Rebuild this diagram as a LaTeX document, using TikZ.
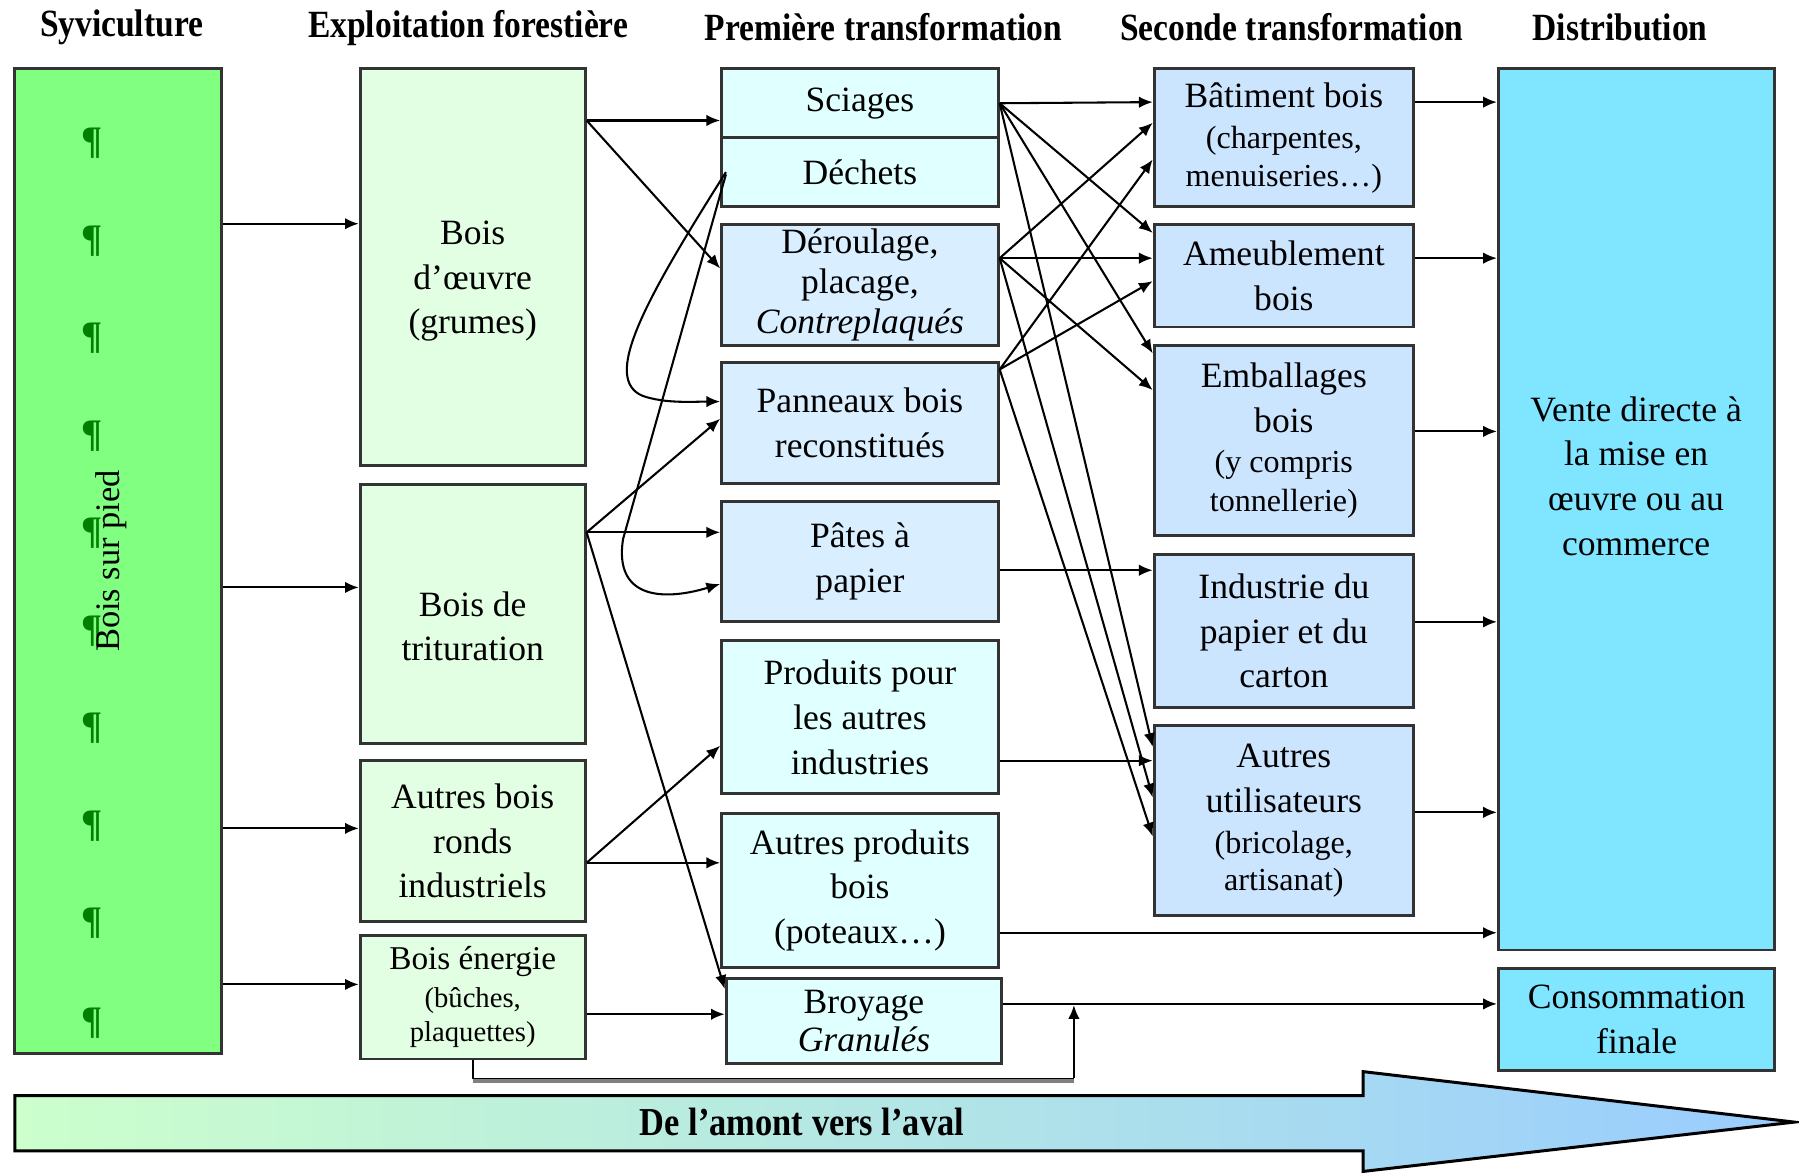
\documentclass[tikz,border=0pt]{standalone}
\usepackage{fontspec}
\setmainfont{Liberation Serif}
\usetikzlibrary{arrows.meta}
\definecolor{cgreen}{HTML}{80FF80}
\definecolor{cpale}{HTML}{E3FFE3}
\definecolor{ccyan}{HTML}{E0FFFF}
\definecolor{cblue}{HTML}{D9EEFF}
\definecolor{cbluetwo}{HTML}{CCE5FF}
\definecolor{cvente}{HTML}{80E5FF}
\definecolor{cborder}{HTML}{333333}
\definecolor{cpil}{HTML}{008000}
\definecolor{cgl}{HTML}{CCFFCC}
\definecolor{cbr}{HTML}{99CCFF}
\newcommand{\bx}[7]{\node[#6, minimum width={(#3-#1)*0.5}, minimum height={(#4-#2)*0.5}] (#5) at ({(#1+#3)/2},{(#2+#4)/2}) {#7};}
\newcommand{\sm}[1]{{\fontsize{14}{16}\selectfont #1}}
\newcommand{\hdr}[1]{\scalebox{1}[1.15]{#1}}
\begin{document}
\begin{tikzpicture}[x=0.5pt,y=-0.5pt,
  bx/.style={draw=cborder, line width=1.3pt, inner sep=1pt, align=center, font=\fontsize{15.5}{19.5}\selectfont},
  hd/.style={font=\fontsize{14.6}{17}\selectfont\bfseries, inner sep=0pt},
  arr/.style={-{Latex[length=6pt,width=5pt]}, line width=0.9pt, black},
  pil/.style={text=cpil, font=\fontsize{17}{17}\selectfont\bfseries, inner sep=0pt}]
\useasboundingbox (0,0) rectangle (1568,1023);
\fill[white] (0,0) rectangle (1568,1023);
% headers
\node[hd] (h1) at (106,24) {\hdr{Syviculture}};
\node[hd] (h2) at (408,24) {\hdr{Exploitation forestière}};
\node[hd] (h3) at (770,24) {\hdr{Première transformation}};
\node[hd] (h4) at (1126,24) {\hdr{Seconde transformation}};
\node[hd] (h5) at (1412,24) {\hdr{Distribution}};
% column 1
\bx{13}{60}{193}{918}{sp}{bx, fill=cgreen}{}
\foreach \yy [count=\i] in {125,210,295,380,465,550,635,720,805,892}
  \node[pil] (p\i) at (80,\yy) {¶};
\node[rotate=90, font=\fontsize{15}{17}\selectfont, inner sep=0pt] (bsp) at (97,489) {Bois sur pied};
% column 2
\bx{314}{60}{510}{406}{bo}{bx, fill=cpale}{}
\node[align=center, font=\fontsize{15.5}{19.5}\selectfont] (tbo) at (412,245) {Bois\\d’œuvre\\(grumes)};
\bx{314}{422}{510}{648}{bt}{bx, fill=cpale}{}
\node[align=center, font=\fontsize{15.5}{19.5}\selectfont] (tbt) at (412,546) {Bois de\\trituration};
\bx{314}{663}{510}{803}{ba}{bx, fill=cpale}{Autres bois\\ronds\\industriels}
\bx{314}{815}{510}{923}{be}{bx, fill=cpale}{{\fontsize{14.5}{16}\selectfont Bois énergie}\\[-3pt]{\fontsize{12.5}{15}\selectfont (bûches,}\\[-4.5pt]{\fontsize{12.5}{15}\selectfont plaquettes)}}
% column 3
\bx{629}{60}{870}{120}{sci}{bx, fill=ccyan}{Sciages}
\bx{629}{120}{870}{180}{dec}{bx, fill=ccyan}{Déchets}
\bx{629}{196}{870}{301}{der}{bx, fill=cblue}{Déroulage,\\[-2pt]placage,\\[-2pt]\textit{Contreplaqués}}
\bx{629}{316}{870}{421}{pan}{bx, fill=cblue}{Panneaux bois\\reconstitués}
\bx{629}{437}{870}{542}{pat}{bx, fill=cblue}{Pâtes à\\papier}
\bx{629}{558}{870}{692}{pro}{bx, fill=ccyan}{Produits pour\\les autres\\industries}
\bx{629}{709}{870}{843}{apb}{bx, fill=ccyan}{Autres produits\\bois\\(poteaux…)}
\bx{633}{853}{873}{927}{bro}{bx, fill=ccyan}{Broyage\\[-3pt]\textit{Granulés}}
% column 4
\bx{1006}{60}{1232}{180}{bat}{bx, fill=cbluetwo}{Bâtiment bois\\[-1.5pt]\sm{(charpentes,}\\[-3pt]\sm{menuiseries…)}}
\bx{1006}{196}{1232}{285}{ame}{bx, fill=cbluetwo}{Ameublement\\bois}
\bx{1006}{301}{1232}{467}{emb}{bx, fill=cbluetwo}{Emballages\\bois\\[-2pt]\sm{(y compris}\\[-2.5pt]\sm{tonnellerie)}}
\bx{1006}{483}{1232}{617}{ind}{bx, fill=cbluetwo}{Industrie du\\papier et du\\carton}
\bx{1006}{632}{1232}{798}{aut}{bx, fill=cbluetwo}{Autres\\utilisateurs\\[-1.5pt]\sm{(bricolage,}\\[-3.5pt]\sm{artisanat)}}
% column 5
\bx{1306}{60}{1547}{828}{ven}{bx, fill=cvente}{}
\node[align=center, font=\fontsize{15.5}{19.5}\selectfont] (tven) at (1426,415) {Vente directe à\\la mise en\\œuvre ou au\\commerce};
\bx{1306}{844}{1547}{933}{con}{bx, fill=cvente}{Consommation\\finale}
% bottom arrow
\shadedraw[left color=cgl, right color=cbr, draw=black, line width=1.3pt] (13,955) -- (1188,955) -- (1188,934) -- (1564,978) -- (1188,1021) -- (1188,1003) -- (13,1003) -- cycle;
\node[font=\fontsize{15}{17}\selectfont\bfseries, inner sep=0pt] (aval) at (699,978) {\hdr{De l’amont vers l’aval}};
% col1 -> col2
\draw[arr] (sp.east |- 0,195) -- (bo.west |- 0,195);
\draw[arr] (sp.east |- 0,512) -- (bt.west |- 0,512);
\draw[arr] (sp.east |- 0,722) -- (ba.west |- 0,722);
\draw[arr] (sp.east |- 0,858) -- (be.west |- 0,858);
% col2 -> col3
\draw[arr] (bo.east |- 0,105) -- (sci.west |- 0,105);
\draw[arr] (bo.east |- 0,105) -- (der.west |- 0,234);
\draw[arr] (bt.east |- 0,464) -- (pan.west |- 0,365);
\draw[arr] (bt.east |- 0,464) -- (pat.west |- 0,464);
\draw[arr] (bt.east |- 0,464) -- (bro.west |- 0,862);
\draw[arr] (ba.east |- 0,752) -- (pro.west |- 0,650);
\draw[arr] (ba.east |- 0,752) -- (apb.west |- 0,752);
\draw[arr] (be.east |- 0,884) -- (bro.west |- 0,884);
% curves from Déchets
\draw[arr] ([xshift=2.5pt]dec.west |- 0,150) .. controls (560,265) and (525,330) .. (560,345) .. controls (580,352) and (605,350) .. (pan.west |- 0,350);
\draw[arr] ([xshift=2.5pt]dec.west |- 0,152) -- (543,470) .. controls (535,522) and (578,524) .. (pat.west |- 0,509);
% col3 -> col4
\draw[arr] (sci.east |- 0,90) -- (bat.west |- 0,89);
\draw[arr] (sci.east |- 0,90) -- (ame.west |- 0,203);
\draw[arr] (sci.east |- 0,90) -- (emb.west |- 0,308);
\draw[arr] (sci.east |- 0,90) -- (aut.west |- 0,651);
\draw[arr] (der.east |- 0,225) -- (bat.west |- 0,107);
\draw[arr] (der.east |- 0,225) -- (ame.west |- 0,225);
\draw[arr] (der.east |- 0,225) -- (emb.west |- 0,340);
\draw[arr] (der.east |- 0,225) -- (aut.west |- 0,695);
\draw[arr] (pan.east |- 0,322) -- (bat.west |- 0,139);
\draw[arr] (pan.east |- 0,322) -- (ame.west |- 0,245);
\draw[arr] (pan.east |- 0,322) -- (aut.west |- 0,729);
\draw[arr] (pat.east |- 0,497) -- (ind.west |- 0,497);
\draw[arr] (pro.east |- 0,663) -- (aut.west |- 0,663);
\draw[arr] (apb.east |- 0,813) -- (ven.west |- 0,813);
\draw[arr] (bro.east |- 0,875) -- (con.west |- 0,875);
% col4 -> col5
\draw[arr] (bat.east |- 0,89) -- (ven.west |- 0,89);
\draw[arr] (ame.east |- 0,225) -- (ven.west |- 0,225);
\draw[arr] (emb.east |- 0,376) -- (ven.west |- 0,376);
\draw[arr] (ind.east |- 0,542) -- (ven.west |- 0,542);
\draw[arr] (aut.east |- 0,708) -- (ven.west |- 0,708);
% bypass from Bois énergie
\coordinate (j1) at (936,940);
\coordinate (jn) at (936,876);
\draw[line width=2pt, gray] (be.south |- 0,942) -- (j1 |- 0,942);
\draw[line width=0.75pt] (be.south) -- (be.south |- j1) -- (j1);
\draw[arr] (j1) -- (jn);
\end{tikzpicture}
\end{document}
